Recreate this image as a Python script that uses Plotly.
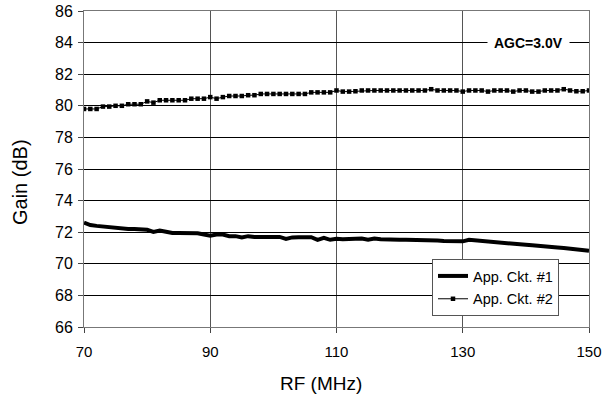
import plotly.graph_objects as go

# RF frequency sweep (MHz)
rf_mhz = list(range(70, 151))

# Gain of application circuit #1 (dB)
gain_ckt1 = [
    72.60, 72.45, 72.40, 72.35, 72.35, 72.25, 72.20, 72.20, 72.20, 72.20,
    72.15, 72.02, 72.10, 72.03, 71.95, 71.95, 71.95, 71.93, 71.93, 71.85,
    71.78, 71.85, 71.85, 71.75, 71.75, 71.67, 71.75, 71.70, 71.70, 71.70,
    71.70, 71.70, 71.58, 71.67, 71.68, 71.68, 71.68, 71.52, 71.65, 71.52,
    71.58, 71.55, 71.58, 71.55, 71.60, 71.52, 71.60, 71.55, 71.52, 71.52,
    71.52, 71.52, 71.52, 71.50, 71.48, 71.48, 71.47, 71.45, 71.43, 71.42,
    71.42, 71.52, 71.48, 71.42, 71.38, 71.35, 71.32, 71.28, 71.25, 71.22,
    71.20, 71.17, 71.12, 71.10, 71.07, 71.03, 71.00, 70.95, 70.92, 70.88,
    70.83,
]

# Gain of application circuit #2 (dB)
gain_ckt2 = [
    79.80, 79.80, 79.80, 79.95, 79.95, 80.00, 80.00, 80.10, 80.10, 80.10,
    80.28, 80.20, 80.35, 80.35, 80.35, 80.35, 80.35, 80.45, 80.45, 80.45,
    80.55, 80.45, 80.55, 80.62, 80.62, 80.62, 80.67, 80.67, 80.75, 80.75,
    80.75, 80.75, 80.75, 80.75, 80.75, 80.75, 80.85, 80.85, 80.85, 80.85,
    80.97, 80.90, 80.90, 80.92, 80.97, 80.97, 80.97, 80.97, 80.97, 80.97,
    80.97, 80.97, 80.97, 80.97, 80.97, 81.05, 80.97, 80.97, 80.97, 80.97,
    80.90, 80.97, 80.97, 80.97, 80.90, 80.97, 80.97, 80.97, 80.90, 80.97,
    80.97, 80.90, 80.90, 80.97, 80.97, 80.97, 81.05, 80.97, 80.92, 80.92,
    80.97,
]

x_ticks = [70, 90, 110, 130, 150]
y_ticks = list(range(66, 87, 2))

FONT = "Liberation Sans, Arial, sans-serif"

# Plot-area geometry in pixels
W, H = 604, 398
ML, MR, MT, MB = 84, 15, 11, 71
PW, PH = W - ML - MR, H - MT - MB


def px_x(px):
    return (px - ML) / PW


def px_y(py):
    return (H - MB - py) / PH


fig = go.Figure()
fig.add_trace(go.Scatter(
    x=rf_mhz, y=gain_ckt1, mode="lines", name="App. Ckt. #1",
    line=dict(color="black", width=4), legendgroup="c1",
))
fig.add_trace(go.Scatter(
    x=rf_mhz, y=gain_ckt2, mode="lines+markers", name="App. Ckt. #2",
    line=dict(color="black", width=1),
    marker=dict(symbol="square", size=4.5, color="black"), legendgroup="c2",
))

# Operating condition label, sitting on the 84 dB gridline
fig.add_annotation(
    x=px_x(528), y=84, xref="paper", yref="y", text="<b>AGC=3.0V</b>",
    showarrow=False, bgcolor="white", font=dict(family=FONT, size=14, color="black"),
    xanchor="center", yanchor="middle", borderpad=6,
)

# Axis titles
fig.add_annotation(
    x=px_x(321), y=px_y(383), xref="paper", yref="paper", text="RF (MHz)",
    showarrow=False, font=dict(family=FONT, size=19, color="black"),
    xanchor="center", yanchor="middle",
)
fig.add_annotation(
    x=px_x(20), y=px_y(182), xref="paper", yref="paper", text="Gain (dB)",
    showarrow=False, textangle=-90, font=dict(family=FONT, size=20, color="black"),
    xanchor="center", yanchor="middle",
)

fig.update_layout(
    width=W, height=H,
    margin=dict(l=ML, r=MR, t=MT, b=MB),
    paper_bgcolor="white", plot_bgcolor="white",
    font=dict(family=FONT, size=14, color="black"),
    showlegend=True,
    legend=dict(
        x=px_x(432), y=px_y(259), xanchor="left", yanchor="top",
        bgcolor="white", bordercolor="#555555", borderwidth=1,
        font=dict(family=FONT, size=14.5, color="black"),
        tracegroupgap=1, itemwidth=30,
    ),
    xaxis=dict(
        range=[70, 150], tickvals=x_ticks, ticks="outside", ticklen=5,
        tickcolor="#444444", showgrid=True, gridcolor="#555555", gridwidth=1,
        showline=True, linecolor="#777777", linewidth=1, mirror=True,
        zeroline=False, automargin=False, ticklabelstandoff=6,
        tickfont=dict(family=FONT, size=15),
    ),
    yaxis=dict(
        range=[66, 86], tickvals=y_ticks, ticks="outside", ticklen=5,
        tickcolor="#444444", showgrid=True, gridcolor="black", gridwidth=1,
        showline=True, linecolor="#777777", linewidth=1, mirror=True,
        zeroline=False, automargin=False, ticklabelstandoff=2,
        tickfont=dict(family=FONT, size=16),
    ),
)

fig.write_html("out.html")
